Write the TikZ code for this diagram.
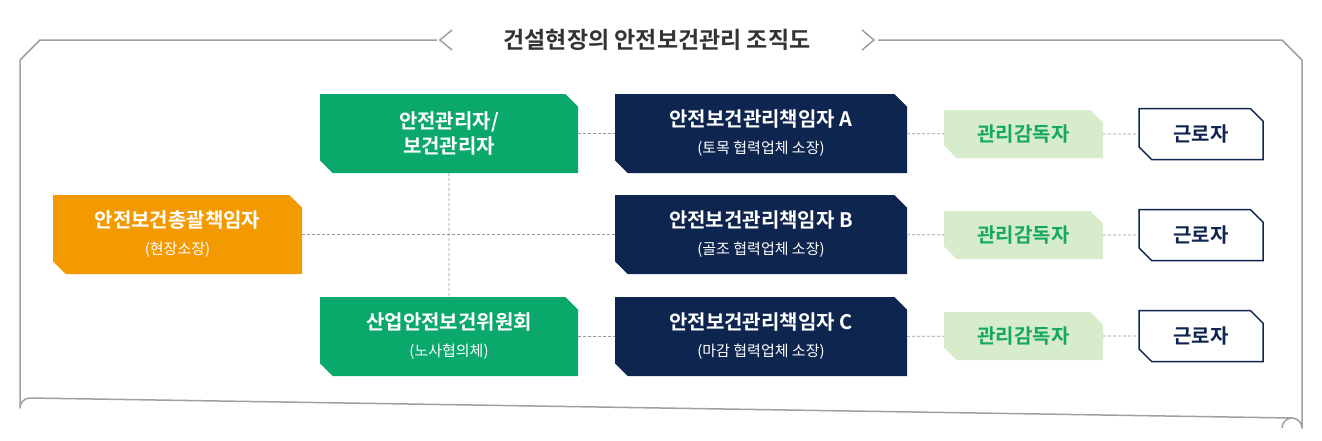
\documentclass[tikz,border=0pt]{standalone}
\usepackage{fontspec}
\setmainfont{Noto Sans CJK KR}[BoldFont={Noto Sans CJK KR Bold}]
\usetikzlibrary{shapes.misc}
\definecolor{gr}{HTML}{0BA86C}
\definecolor{org}{HTML}{F39A00}
\definecolor{nv}{HTML}{0E2550}
\definecolor{lg}{HTML}{D6ECCB}
\definecolor{lgt}{HTML}{16A85E}
\definecolor{fr}{HTML}{A0A0A0}
\tikzset{
  cb/.style={chamfered rectangle, chamfered rectangle corners={north east,south west},
    chamfered rectangle xsep=9pt, inner sep=0pt, align=center, font=\fontsize{20}{25}\selectfont\bfseries},
  big/.style={cb, minimum width=258pt, minimum height=79pt, text=white},
  nbox/.style={big, minimum width=292pt, fill=nv},
  gbox/.style={big, fill=gr},
  lbox/.style={cb, minimum width=159pt, minimum height=48pt, fill=lg, text=lgt},
  wbox/.style={cb, minimum width=124pt, minimum height=51pt, draw=nv, line width=1.5pt, fill=white, text=nv},
  con/.style={densely dashed, draw=gray!80, line width=0.8pt},
}
\newcommand{\sub}[1]{{\fontsize{15}{20}\selectfont\mdseries #1}}
\begin{document}
\begin{tikzpicture}[x=1pt,y=-1pt]
\useasboundingbox (0,0) rectangle (1322,440);
% frame
\draw[fr, line width=1.5pt, line join=round] (437,40) -- (40,40) -- (20,60) -- (20,408) arc[start angle=180,end angle=270,radius=10] -- (1292,418) arc[start angle=90,end angle=0,radius=-10] ;
\draw[fr, line width=1.5pt] (20,408) (1292,418) -- (1292,418);
\draw[fr, line width=1.5pt, line join=round] (1292,418) arc[start angle=270,end angle=360,radius=10] -- (1302,60) -- (1282,40) -- (878,40);
\draw[fr, line width=1.5pt] (452,30) -- (440,40) -- (452,50);
\draw[fr, line width=1.5pt] (862,30) -- (874,40) -- (862,50);
\node[font=\fontsize{23}{26}\selectfont\bfseries, text=black!80] (title) at (657,40) {건설현장의 안전보건관리 조직도};
% boxes
\node[cb, minimum width=249pt, minimum height=79pt, fill=org, text=white] (chief) at (177.5,234.5) {안전보건총괄책임자\\[2pt]\sub{(현장소장)}};
\node[gbox] (g1) at (449,133.5) {안전관리자/\\보건관리자};
\node[gbox] (g2) at (449,336.5) {산업안전보건위원회\\[2pt]\sub{(노사협의체)}};
\node[nbox] (n1) at (761,133.5) {안전보건관리책임자 A\\[2pt]\sub{(토목 협력업체 소장)}};
\node[nbox] (n2) at (761,234.5) {안전보건관리책임자 B\\[2pt]\sub{(골조 협력업체 소장)}};
\node[nbox] (n3) at (761,336.5) {안전보건관리책임자 C\\[2pt]\sub{(마감 협력업체 소장)}};
\foreach \i/\y in {1/134,2/235,3/336}{
  \node[lbox] (l\i) at (1023.5,\y) {관리감독자};
  \node[wbox] (w\i) at (1201,\y) {근로자};
  \draw[con] (n\i) -- (l\i);
  \draw[con] (l\i) -- (w\i);
}
\draw[con] (chief) -- (n2);
\draw[con] (g1) -- (g2);
\draw[con] (g1) -- (n1);
\draw[con] (g2) -- (n3);
\end{tikzpicture}
\end{document}
